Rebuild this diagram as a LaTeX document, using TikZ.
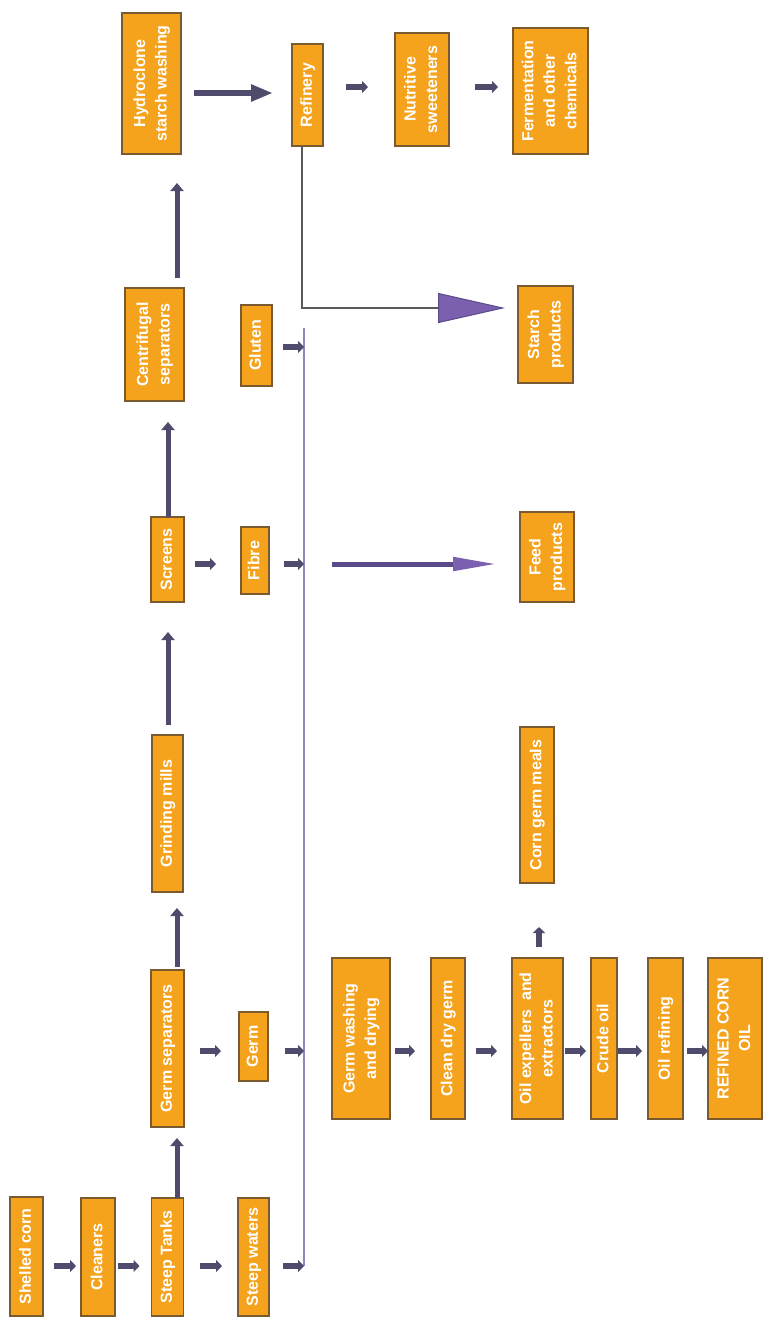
\documentclass[tikz,border=0pt]{standalone}
\usepackage{fontspec}
\setmainfont{Liberation Sans}
\usepackage{graphicx}
\usetikzlibrary{arrows.meta,calc}
\definecolor{boxfill}{HTML}{F5A21C}
\definecolor{boxline}{HTML}{7A5A30}
\definecolor{arrowc}{HTML}{4E4B6C}
\definecolor{linec}{HTML}{8C86C0}
\definecolor{refc}{HTML}{5A5A5A}
\definecolor{purp}{HTML}{7A60AE}
\definecolor{purpd}{HTML}{5A4A8A}
\newcommand{\vt}[1]{\rotatebox{90}{\begin{tabular}{@{}c@{}}#1\end{tabular}}}
\begin{document}
\begin{tikzpicture}[x=1pt,y=-1pt,
  box/.style={draw=boxline, fill=boxfill, line width=1.3pt, inner sep=0pt, outer sep=0pt,
    text=white, font=\bfseries\fontsize{16}{21.5}\selectfont},
  sarrow/.style={draw=arrowc, line width=5.5pt, -{Triangle[length=6pt,width=12pt]}},
  varrow/.style={draw=arrowc, line width=5pt, -{Triangle[length=8pt,width=13pt]}},
  barrow/.style={draw=arrowc, line width=6.5pt, -{Triangle[length=22pt,width=16pt]}},
  vline/.style={draw=linec, line width=1.8pt},
  refl/.style={draw=refc, line width=1.4pt, -{Triangle[length=67pt,width=30pt,fill=purp,color=purpd,line width=1pt]}},
  feedarrow/.style={draw=purpd, line width=5pt, -{Triangle[length=44pt,width=13pt,fill=purp,color=purp]}}
]
\fill[white] (0,0) rectangle (763,1318);
\useasboundingbox (0,0) rectangle (763,1318);

% boxes
\node[box,minimum width=33pt,minimum height=119pt] (shelled) at (26.5,1256.5) {\vt{Shelled corn}};
\node[box,minimum width=34pt,minimum height=118pt] (cleaners) at (98,1257) {\vt{Cleaners}};
\node[box,minimum width=32pt,minimum height=118pt] (steept) at (167.5,1257) {\vt{Steep Tanks}};
\node[box,minimum width=31pt,minimum height=118pt] (steepw) at (253.5,1257) {\vt{Steep waters}};
\node[box,minimum width=33pt,minimum height=157pt] (germsep) at (167.5,1048.5) {\vt{Germ separators}};
\node[box,minimum width=29pt,minimum height=69pt] (germ) at (253.5,1046.5) {\vt{Germ}};
\node[box,minimum width=31pt,minimum height=157pt] (grind) at (167.5,813.5) {\vt{Grinding mills}};
\node[box,minimum width=33pt,minimum height=85pt] (screens) at (167.5,559.5) {\vt{Screens}};
\node[box,minimum width=28pt,minimum height=67pt] (fibre) at (255,560.5) {\vt{Fibre}};
\node[box,minimum width=59pt,minimum height=113pt] (centri) at (154.5,344.5) {\vt{Centrifugal\\separators}};
\node[box,minimum width=31pt,minimum height=81pt] (gluten) at (256.5,345.5) {\vt{Gluten}};
\node[box,minimum width=59pt,minimum height=141pt] (hydro) at (151.5,83.5) {\vt{Hydroclone\\starch washing}};
\node[box,minimum width=31pt,minimum height=102pt] (refinery) at (307.5,95) {\vt{Refinery}};
\node[box,minimum width=54pt,minimum height=113pt] (nutri) at (422,89.5) {\vt{Nutritive\\sweeteners}};
\node[box,minimum width=75pt,minimum height=126pt] (ferm) at (550.5,91) {\vt{Fermentation\\and other\\chemicals}};
\node[box,minimum width=55pt,minimum height=97pt] (starch) at (545.5,334.5) {\vt{Starch\\products}};
\node[box,minimum width=54pt,minimum height=90pt] (feed) at (547,557) {\vt{Feed\\products}};
\node[box,minimum width=34pt,minimum height=156pt] (meals) at (537,805) {\vt{Corn germ meals}};
\node[box,minimum width=58pt,minimum height=161pt] (germwash) at (361,1038.5) {\vt{Germ washing\\and drying}};
\node[box,minimum width=34pt,minimum height=161pt] (cleandry) at (448,1038.5) {\vt{Clean dry germ}};
\node[box,minimum width=51pt,minimum height=161pt] (oilexp) at (537.5,1038.5) {\vt{Oil expellers\ \ and\\extractors}};
\node[box,minimum width=26pt,minimum height=161pt] (crude) at (604,1038.5) {\vt{Crude oil}};
\node[box,minimum width=35pt,minimum height=161pt] (oilref) at (665.5,1038.5) {\vt{Oil refining}};
\node[box,minimum width=54pt,minimum height=161pt] (refined) at (735,1038.5) {\vt{REFINED CORN\\OIL}};

% helper coordinates
\coordinate (r1) at (0,1266);
\coordinate (r2) at (0,1051);
\coordinate (r3) at (0,564);
\coordinate (r4) at (0,347);
\coordinate (r5) at (0,87);
\coordinate (r5a) at (0,93);
\coordinate (c1) at (177,0);
\coordinate (c2) at (168,0);
\coordinate (c3) at (539,0);
\coordinate (ltop) at (304,328);
\coordinate (lbot) at (304,1266);
\coordinate (sb) at (302,308);
\coordinate (fs) at (332,564);

% collecting line
\draw[vline] (ltop) -- (lbot);

% bottom row
\draw[sarrow, shorten <=11pt, shorten >=5pt] (shelled.east |- r1) -- (cleaners.west |- r1);
\draw[sarrow, shorten <=3pt, shorten >=12pt] (cleaners.east |- r1) -- (steept.west |- r1);
\draw[sarrow, shorten <=16pt, shorten >=16pt] (steept.east |- r1) -- (steepw.west |- r1);
\draw[sarrow, shorten <=14pt] (steepw.east |- r1) -- (lbot);

% main column
\draw[varrow, shorten >=11pt] (c1 |- steept.north) -- (c1 |- germsep.south);
\draw[varrow, shorten <=3pt, shorten >=16pt] (c1 |- germsep.north) -- (c1 |- grind.south);
\draw[varrow, shorten <=10pt, shorten >=30pt] (c2 |- grind.north) -- (c2 |- screens.south);
\draw[varrow, shorten >=21pt] (c2 |- screens.north) -- (c2 |- centri.south);
\draw[varrow, shorten <=10pt, shorten >=29pt] (c1 |- centri.north) -- (c1 |- hydro.south);

% germ branch
\draw[sarrow, shorten <=16pt, shorten >=18pt] (germsep.east |- r2) -- (germ.west |- r2);
\draw[sarrow, shorten <=17pt] (germ.east |- r2) -- (ltop |- r2);
\draw[sarrow, shorten <=5pt, shorten >=16pt] (germwash.east |- r2) -- (cleandry.west |- r2);
\draw[sarrow, shorten <=11pt, shorten >=15pt] (cleandry.east |- r2) -- (oilexp.west |- r2);
\draw[sarrow, shorten <=2pt, shorten >=5pt] (oilexp.east |- r2) -- (crude.west |- r2);
\draw[sarrow, shorten <=1pt, shorten >=6pt] (crude.east |- r2) -- (oilref.west |- r2);
\draw[sarrow, shorten <=4pt] (oilref.east |- r2) -- (refined.west |- r2);
\draw[sarrow, shorten <=11pt, shorten >=44pt] (c3 |- oilexp.north) -- (c3 |- meals.south);

% fibre and gluten
\draw[sarrow, shorten <=11pt, shorten >=25pt] (screens.east |- r3) -- (fibre.west |- r3);
\draw[sarrow, shorten <=15pt] (fibre.east |- r3) -- (ltop |- r3);
\draw[sarrow, shorten <=11pt] (gluten.east |- r4) -- (ltop |- r4);
\draw[feedarrow, shorten >=23pt] (fs) -- (feed.west |- fs);

% refinery row
\draw[barrow, shorten <=13pt, shorten >=19pt] (hydro.east |- r5a) -- (refinery.west |- r5a);
\draw[sarrow, shorten <=23pt, shorten >=27pt] (refinery.east |- r5) -- (nutri.west |- r5);
\draw[sarrow, shorten <=26pt, shorten >=15pt] (nutri.east |- r5) -- (ferm.west |- r5);

% refinery to starch products
\draw[refl, shorten >=13pt] (refinery.south -| sb) -- (sb) -- (starch.west |- sb);
\end{tikzpicture}
\end{document}
